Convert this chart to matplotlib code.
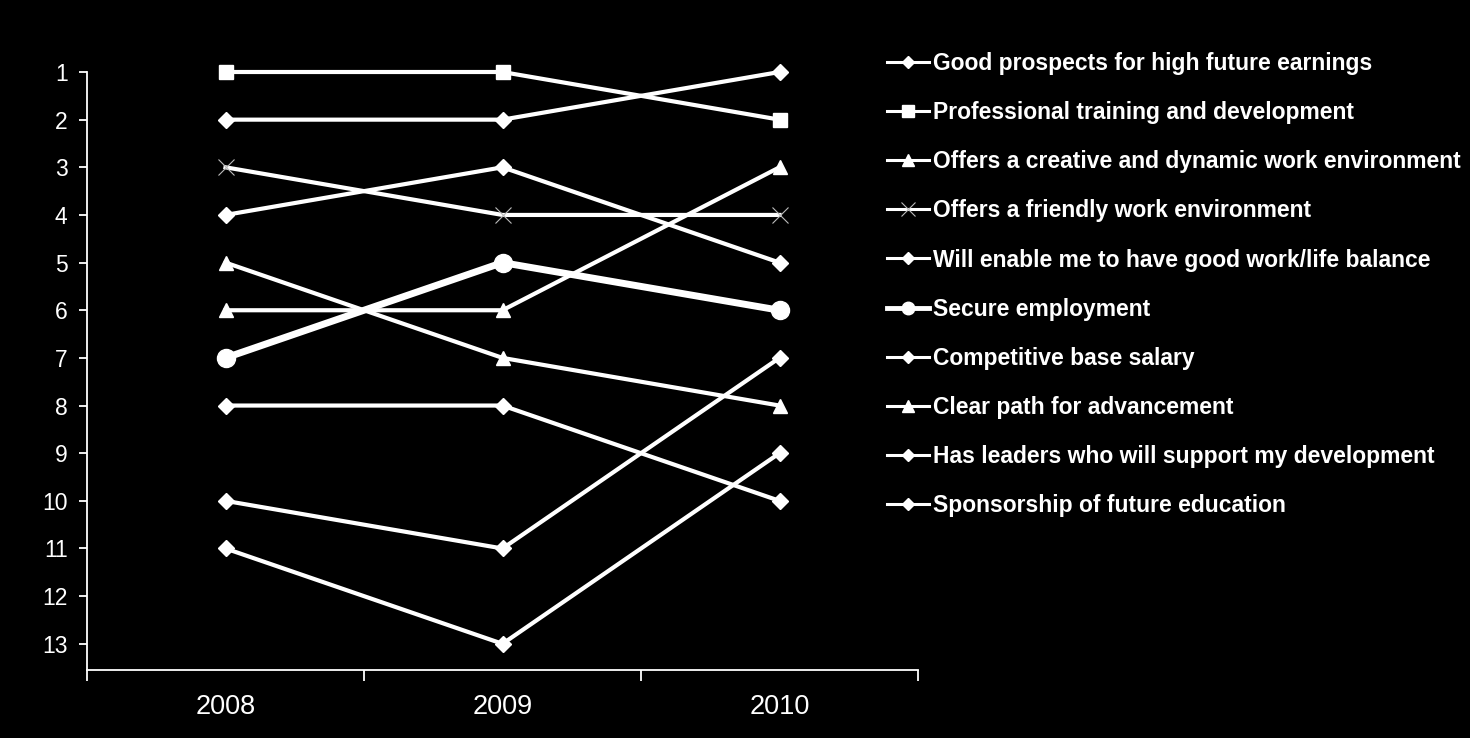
import matplotlib
matplotlib.use("Agg")
import matplotlib.pyplot as plt

plt.rcParams['font.family'] = ['Liberation Sans', 'DejaVu Sans']

years = ['2008', '2009', '2010']
labels = [
    'Good prospects for high future earnings',
    'Professional training and development',
    'Offers a creative and dynamic work environment',
    'Offers a friendly work environment',
    'Will enable me to have good work/life balance',
    'Secure employment',
    'Competitive base salary',
    'Clear path for advancement',
    'Has leaders who will support my development',
    'Sponsorship of future education',
]
good_prospects = [2, 2, 1]
professional_training = [1, 1, 2]
creative_env = [6, 6, 3]
friendly_env = [3, 4, 4]
work_life = [4, 3, 5]
secure_employment = [7, 5, 6]
base_salary = [10, 11, 7]
clear_path = [5, 7, 8]
leaders = [8, 8, 10]
sponsorship = [11, 13, 9]

series = [good_prospects, professional_training, creative_env, friendly_env,
          work_life, secure_employment, base_salary, clear_path, leaders,
          sponsorship]
markers = ['D', 's', '^', 'x', 'D', 'o', 'D', '^', 'D', 'D']
msizes = [8, 10, 10, 12, 8, 13, 8, 10, 8, 8]
lwidths = [3, 3, 3, 3, 3, 5, 3, 3, 3, 3]

fig = plt.figure(figsize=(14.7, 7.38), dpi=100, facecolor='black')
ax = fig.add_axes([87 / 1470, 1 - 670 / 738, (918 - 87) / 1470, (670 - 72) / 738])
ax.set_facecolor('black')

x = range(len(years))
for vals, lab, m, ms, lw in zip(series, labels, markers, msizes, lwidths):
    mew = 0.8 if m == 'x' else 1
    mc = '#bbbbbb' if m == 'x' else 'white'
    ax.plot(x, vals, color='white', lw=lw, marker=m, ms=ms, mfc=mc, mec=mc,
            mew=mew, label=lab, clip_on=False)

ax.set_xlim(-0.5, 2.5)
ax.set_ylim(13.55, 1)
ax.set_yticks(range(1, 14))
ax.set_xticks([-0.5, 0.5, 1.5, 2.5])
ax.set_xticklabels([])
ax.set_xticks(list(x), minor=True)
ax.set_xticklabels(years, minor=True, fontsize=19.5)
ax.tick_params(axis='x', which='minor', length=0, pad=17, colors='white')
ax.tick_params(axis='x', which='major', length=8, width=1.3, colors='white')
ax.tick_params(axis='y', length=6, width=1.3, colors='white', labelsize=16.5, pad=8)
for s in ['top', 'right']:
    ax.spines[s].set_visible(False)
for s in ['left', 'bottom']:
    ax.spines[s].set_color('white')
    ax.spines[s].set_linewidth(1.3)

leg = fig.legend(loc='upper left', bbox_to_anchor=(887 / 1470, 1 - 52 / 738),
                 frameon=False, prop={'size': 16.5, 'weight': 'bold'},
                 handlelength=1.85, handletextpad=0.15, labelspacing=1.14,
                 borderaxespad=0, borderpad=0)
for t in leg.get_texts():
    t.set_color('white')
for h, m in zip(leg.legend_handles, markers):
    h.set_linewidth(2.2 if m != 'o' else 3.5)
    if m == 'D':
        h.set_markersize(6)
    elif m == 'o':
        h.set_markersize(9)
    elif m == 'x':
        h.set_markersize(10)
    else:
        h.set_markersize(8)

fig.savefig('out.png', dpi=100, facecolor='black')
